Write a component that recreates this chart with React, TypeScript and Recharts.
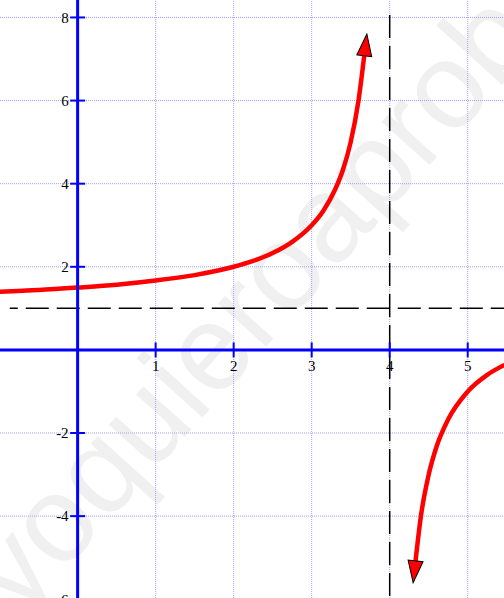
import { Line, LineChart, ReferenceDot, ReferenceLine, XAxis, YAxis } from "recharts";

// left branch of the curve (before the vertical asymptote)
const leftX = [-1.0, -0.5, 0, 0.5, 1, 1.5, 2, 2.25, 2.5, 2.75, 3, 3.15, 3.3, 3.4, 3.5, 3.6, 3.675];
const leftY = [1.4, 1.44, 1.5, 1.57, 1.67, 1.8, 2.0, 2.14, 2.33, 2.6, 3.0, 3.35, 3.86, 4.33, 5.0, 6.0, 7.1];

// right branch (starts at the bottom arrow)
const rightX = [4.33, 4.4, 4.5, 4.6, 4.75, 5.0, 5.25, 5.47];
const rightY = [-5.1, -4.0, -3.0, -2.33, -1.67, -1.0, -0.6, -0.36];

const xTicks = [1, 2, 3, 4, 5];
const yTicks = [-6, -4, -2, 2, 4, 6, 8];
const xLabels = ["1", "2", "3", "4", "5"];
const yLabels = ["-6", "-4", "-2", "2", "4", "6", "8"];

const vAsymptote = 4;
const hAsymptote = 1;

const W = 504;
const H = 598;

const leftData = leftX.map((x, i) => ({ x, y: leftY[i] }));
const rightData = rightX.map((x, i) => ({ x, y: rightY[i] }));

const labelFont = { fontFamily: "'Liberation Serif', 'Times New Roman', serif", fontSize: 15, fill: "#000" };
const gridStyle = { stroke: "#a0a0ff", strokeWidth: 1, strokeDasharray: "1 1" };

const App = () => {
  return (
    <div style={{ position: "absolute", left: 0, top: 0, width: W, height: H, background: "#fff" }}>
      <svg width={W} height={H} style={{ position: "absolute", left: 0, top: 0 }}>
        <defs>
          <marker
            id="arrow"
            viewBox="0 0 24 18"
            refX="2"
            refY="9"
            markerWidth="24"
            markerHeight="18"
            markerUnits="userSpaceOnUse"
            orient="auto-start-reverse"
          >
            <path d="M1,1.5 L23,9 L1,16.5 Z" fill="#ff0000" stroke="#000" strokeWidth="1" />
          </marker>
        </defs>
        <text
          x={20}
          y={620}
          transform="rotate(-48 20 620)"
          fontFamily="'Liberation Sans', Arial, sans-serif"
          fontSize={122}
          fill="#f0f0f0"
        >
          yoquieroaprobar
        </text>
      </svg>
      <div style={{ position: "absolute", left: 0, top: 0 }}>
        <LineChart width={W} height={H} margin={{ top: 0, right: 0, bottom: 0, left: 0 }}>
          <XAxis
            type="number"
            dataKey="x"
            domain={[-0.995, 5.465]}
            ticks={xTicks}
            allowDataOverflow
            height={0}
            axisLine={false}
            tickLine={false}
            tick={false}
          />
          <YAxis
            type="number"
            domain={[-5.97, 8.42]}
            ticks={yTicks}
            allowDataOverflow
            width={0}
            axisLine={false}
            tickLine={false}
            tick={false}
          />
          {xTicks.map((t) => (
            <ReferenceLine key={"gx" + t} x={t} {...gridStyle} />
          ))}
          {yTicks.map((t) => (
            <ReferenceLine key={"gy" + t} y={t} {...gridStyle} />
          ))}
          <ReferenceLine
            segment={[{ x: -0.87, y: hAsymptote }, { x: 5.465, y: hAsymptote }]}
            stroke="#000"
            strokeWidth={1.5}
            strokeDasharray="23 8"
            strokeDashoffset={15}
          />
          <ReferenceLine
            segment={[{ x: vAsymptote, y: 8.06 }, { x: vAsymptote, y: -5.97 }]}
            stroke="#000"
            strokeWidth={1.5}
            strokeDasharray="23 8"
          />
          <Line
            data={leftData}
            dataKey="y"
            type="monotone"
            stroke="#ff0000"
            strokeWidth={4.5}
            dot={false}
            activeDot={false}
            markerEnd="url(#arrow)"
            isAnimationActive={false}
          />
          <Line
            data={rightData}
            dataKey="y"
            type="monotone"
            stroke="#ff0000"
            strokeWidth={4.5}
            dot={false}
            activeDot={false}
            markerStart="url(#arrow)"
            isAnimationActive={false}
          />
          <ReferenceLine x={0} stroke="#0000ff" strokeWidth={3} />
          <ReferenceLine y={0} stroke="#0000ff" strokeWidth={3} />
          {xTicks.map((t) => (
            <ReferenceLine
              key={"xt" + t}
              segment={[{ x: t, y: -0.18 }, { x: t, y: 0.18 }]}
              stroke="#0000ff"
              strokeWidth={2}
            />
          ))}
          {yTicks.map((t) => (
            <ReferenceLine
              key={"yt" + t}
              segment={[{ x: -0.096, y: t }, { x: 0.096, y: t }]}
              stroke="#0000ff"
              strokeWidth={2}
              ifOverflow="visible"
            />
          ))}
          {xTicks.map((t, i) => (
            <ReferenceDot
              key={"xl" + t}
              x={t}
              y={0}
              r={0}
              fill="none"
              stroke="none"
              label={{ value: xLabels[i], position: "bottom", offset: 10, ...labelFont }}
            />
          ))}
          {yTicks.map((t, i) => (
            <ReferenceDot
              key={"yl" + t}
              x={0}
              y={t}
              r={0}
              fill="none"
              stroke="none"
              ifOverflow="visible"
              label={{ value: yLabels[i], position: "left", offset: 9, ...labelFont }}
            />
          ))}
        </LineChart>
      </div>
    </div>
  );
};

export default App;
